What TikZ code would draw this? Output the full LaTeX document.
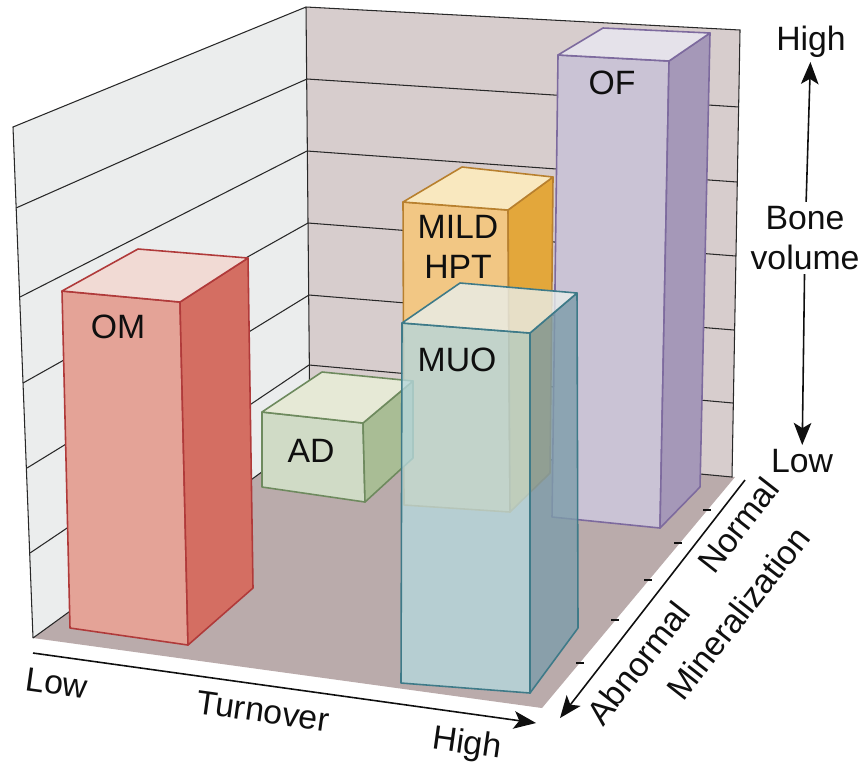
\documentclass[tikz,border=0pt]{standalone}
\usepackage{fontspec}
\setmainfont{Liberation Sans}
\usetikzlibrary{arrows.meta}
\usepackage{xcolor}
% paredes y suelo
\definecolor{ParedLateral}{RGB}{235,237,237}
\definecolor{ParedFondo}{RGB}{215,205,205}
\definecolor{Suelo}{RGB}{186,171,171}
\definecolor{Rejilla}{RGB}{40,40,40}
% barras
\definecolor{OMfrente}{RGB}{228,163,151}
\definecolor{OMlado}{RGB}{212,110,98}
\definecolor{OMtapa}{RGB}{241,218,212}
\definecolor{OMborde}{RGB}{176,58,58}
\definecolor{ADfrente}{RGB}{208,219,198}
\definecolor{ADlado}{RGB}{169,189,149}
\definecolor{ADtapa}{RGB}{230,233,214}
\definecolor{ADborde}{RGB}{110,138,94}
\definecolor{HPTfrente}{RGB}{242,199,132}
\definecolor{HPTlado}{RGB}{227,167,59}
\definecolor{HPTtapa}{RGB}{249,232,191}
\definecolor{HPTborde}{RGB}{184,128,46}
\definecolor{MUOfrente}{RGB}{182,215,220}
\definecolor{MUOlado}{RGB}{125,157,170}
\definecolor{MUOtapa}{RGB}{232,238,235}
\definecolor{MUOborde}{RGB}{62,122,136}
\definecolor{OFfrente}{RGB}{202,195,213}
\definecolor{OFlado}{RGB}{165,152,184}
\definecolor{OFtapa}{RGB}{229,226,234}
\definecolor{OFborde}{RGB}{125,106,158}
\definecolor{onyx}{rgb}{0.06, 0.06, 0.06}

\tikzset{
  caja/.style={line width=0.45pt, line join=round},
  rejilla/.style={Rejilla, line width=0.3pt},
  etiqueta/.style={font=\fontsize{9.6}{11.4}\selectfont, text=onyx, align=center, inner sep=1pt},
  flecha/.style={onyx, line width=0.45pt, -{Stealth[length=6.3pt, width=5pt, inset=1.5pt]}},
}

\begin{document}
\begin{tikzpicture}[x=0.01cm, y=-0.01cm]
	\useasboundingbox (0,0) rectangle (865,766);
	% Dibuja las paredes y el suelo
	\fill[ParedLateral] (13,127) -- (306,7) -- (310,437) -- (33,638) -- cycle;
	\fill[ParedFondo] (306,7) -- (740,30) -- (732,477) -- (310,437) -- cycle;
	\fill[Suelo] (33,638) -- (310,437) -- (735,477) -- (542,708) -- cycle;
	\draw[rejilla] (33,638) -- (13,127) -- (306,7) -- (740,30) -- (732,477) -- (310,437) -- (33,638);
	\draw[rejilla] (306,7) -- (310,437);
	% lineas de la rejilla
	\draw[rejilla] (307,79) -- (739,107);
	\draw[rejilla] (307,151) -- (737,182);
	\draw[rejilla] (308,223) -- (736,256);
	\draw[rejilla] (309,295) -- (734,330);
	\draw[rejilla] (309,365) -- (733,403);
	\draw[rejilla] (16,208) -- (307,79);
	\draw[rejilla] (20,297) -- (307,151);
	\draw[rejilla] (23,383) -- (308,223);
	\draw[rejilla] (27,468) -- (309,295);
	\draw[rejilla] (30,553) -- (309,365);

	% Dibuja las barras, de atras hacia delante
	\filldraw[fill=OFfrente, draw=OFborde, caja] (558,55) -- (669,61) -- (660,528) -- (552,517) -- cycle;
	\filldraw[fill=OFlado, draw=OFborde, caja] (669,61) -- (710,33) -- (700,487) -- (660,528) -- cycle;
	\filldraw[fill=OFtapa, draw=OFborde, caja] (558,55) -- (669,61) -- (710,33) -- (603,28) -- cycle;

	\filldraw[fill=HPTfrente, draw=HPTborde, caja] (403,202) -- (508,210) -- (510,512) -- (404,505) -- cycle;
	\filldraw[fill=HPTlado, draw=HPTborde, caja] (508,210) -- (553,177) -- (550,473) -- (510,512) -- cycle;
	\filldraw[fill=HPTtapa, draw=HPTborde, caja] (403,202) -- (508,210) -- (553,177) -- (462,167) -- cycle;

	\filldraw[fill=ADfrente, draw=ADborde, caja] (262,412) -- (363,423) -- (365,502) -- (262,487) -- cycle;
	\filldraw[fill=ADlado, draw=ADborde, caja] (363,423) -- (413,381) -- (413,458) -- (365,502) -- cycle;
	\filldraw[fill=ADtapa, draw=ADborde, caja] (262,412) -- (363,423) -- (413,381) -- (322,372) -- cycle;

	\filldraw[fill=OMfrente, draw=OMborde, caja] (62,291) -- (180,302) -- (188,645) -- (70,628) -- cycle;
	\filldraw[fill=OMlado, draw=OMborde, caja] (180,302) -- (248,258) -- (253,588) -- (188,645) -- cycle;
	\filldraw[fill=OMtapa, draw=OMborde, caja] (62,291) -- (180,302) -- (248,258) -- (138,249) -- cycle;

	\filldraw[fill=MUOfrente, fill opacity=0.8, draw=MUOborde, caja] (402,323) -- (530,333) -- (530,693) -- (401,683) -- cycle;
	\filldraw[fill=MUOlado, fill opacity=0.8, draw=MUOborde, caja] (530,333) -- (577,293) -- (578,628) -- (530,693) -- cycle;
	\filldraw[fill=MUOtapa, fill opacity=0.8, draw=MUOborde, caja] (402,323) -- (530,333) -- (577,293) -- (460,283) -- cycle;

	% nombres de las barras
	\node[etiqueta] (om) at (118,327) {OM};
	\node[etiqueta] (ad) at (311,451) {AD};
	\node[etiqueta] (hpt) at (458,247) {MILD\\HPT};
	\node[etiqueta] (muo) at (457,360) {MUO};
	\node[etiqueta] (of) at (612,83) {OF};

	% ejes
	\coordinate (giroIni) at (33,653);
	\coordinate (giroFin) at (536,723);
	\draw[flecha] (giroIni) -- (giroFin);
	\node[etiqueta, rotate=-8] (giroBajo) at (57,683) {Low};
	\node[etiqueta, rotate=-8] (giro) at (263,711) {Turnover};
	\node[etiqueta, rotate=-8] (giroAlto) at (467,745) {High};

	\coordinate (minIni) at (745,480);
	\coordinate (minFin) at (560,718);
	\draw[flecha] (minIni) -- (minFin);
	\draw[onyx, line width=0.6pt] (703,510) -- (711,510) (674,543) -- (682,543) (644,580) -- (652,580)
		(611,620) -- (619,620) (576,663) -- (584,663);
	\node[etiqueta, rotate=52] (normal) at (738,525) {Normal};
	\node[etiqueta, rotate=52] (anormal) at (638,663) {Abnormal};
	\node[etiqueta, rotate=52] (mineral) at (738,613) {Mineralization};

	\node[etiqueta] (alto) at (811,42) {High};
	\node[etiqueta] (volumen) at (805,238) {Bone\\volume};
	\node[etiqueta] (bajo) at (802,461) {Low};
	\draw[flecha] (volumen) -- (alto);
	\draw[flecha] (volumen) -- (bajo);
\end{tikzpicture}
\end{document}
